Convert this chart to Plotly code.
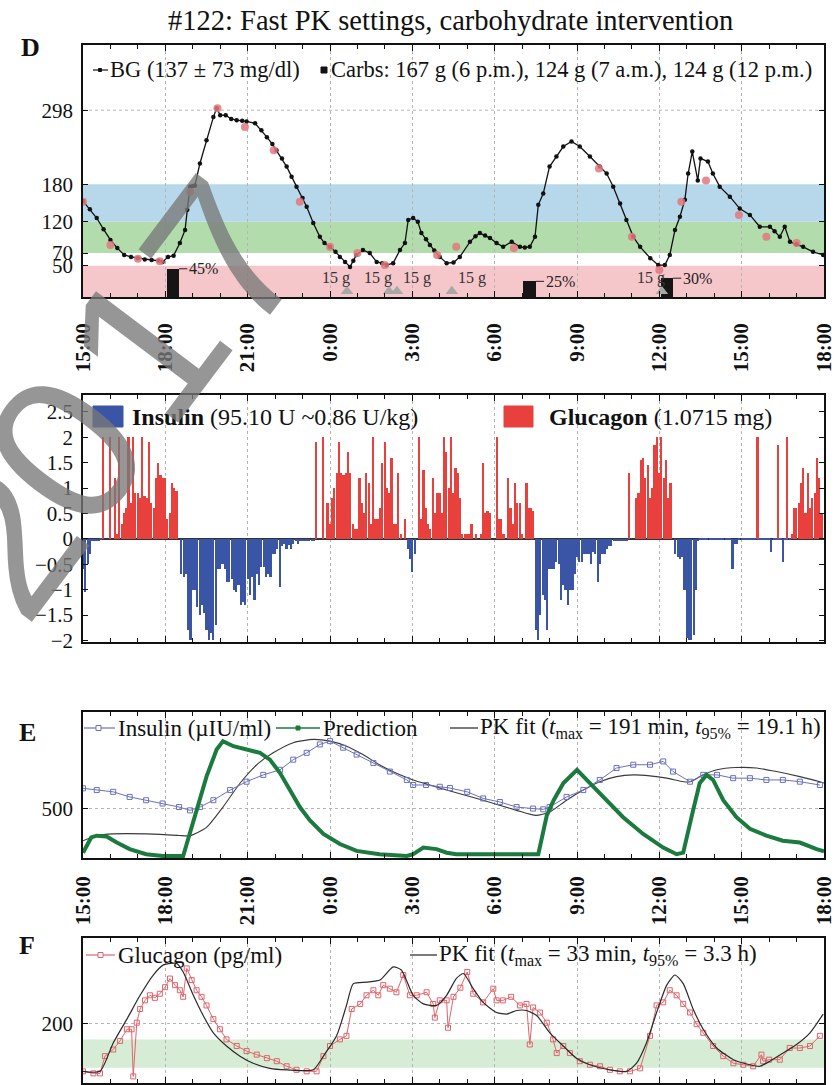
import plotly.graph_objects as go

# ---------------- data ----------------
title_text = "#122: Fast PK settings, carbohydrate intervention"
x_tick_vals = [0, 3, 6, 9, 12, 15, 18, 21, 24, 27]
x_tick_labels = ["15:00", "18:00", "21:00", "0:00", "3:00", "6:00", "9:00", "12:00", "15:00", "18:00"]

# Panel D: blood glucose (hours after 15:00, mg/dl)
bg_hours = [0, 0.25, 0.5, 0.75, 1.0, 1.25, 1.5, 1.75, 2.0, 2.25, 2.5, 2.75, 2.9, 3.1, 3.3, 3.53, 3.72, 3.8, 3.9, 4.0,
            4.08, 4.26, 4.5, 4.75, 4.87, 5.0, 5.2, 5.4, 5.6, 5.8, 5.96, 6.27, 6.5, 6.7, 6.9, 7.05, 7.25, 7.42, 7.6, 7.78,
            8.0, 8.15, 8.39, 8.63, 8.8, 9.0, 9.2, 9.36, 9.55, 9.73, 9.85, 9.96, 10.2, 10.45, 10.7, 10.9, 11.06, 11.3, 11.55, 11.73,
            11.85, 12.03, 12.2, 12.33, 12.5, 12.64, 12.8, 13.0, 13.25, 13.5, 13.73, 14.1, 14.3, 14.46, 14.65, 14.83, 15.07, 15.31, 15.62, 15.92,
            16.1, 16.28, 16.47, 16.59, 16.77, 17.0, 17.25, 17.5, 17.8, 18.1, 18.47, 18.83, 19.08, 19.32, 19.57, 19.8, 20.05, 20.3, 20.67, 20.96,
            21.2, 21.38, 21.57, 21.75, 21.93, 22.05, 22.2, 22.4, 22.5, 22.77, 22.95, 23.2, 23.57, 23.93, 24.3, 24.66, 25.03, 25.2, 25.39, 25.57,
            25.76, 26.0, 26.24, 26.6, 26.97]
bg_values = [153, 140, 126, 108, 91, 78, 67, 64, 62, 60, 59, 58, 56, 64, 66, 86, 107, 139, 176, 177,
             178, 213, 250, 287, 301, 290, 290, 284, 282, 281, 280, 277, 266, 255, 244, 234, 221, 208, 192, 176,
             158, 144, 118, 96, 86, 80, 72, 64, 56, 48, 58, 67, 75, 70, 56, 54, 51, 54, 75, 86,
             123, 126, 120, 102, 92, 83, 74, 64, 54, 55, 64, 88, 97, 102, 98, 94, 86, 80, 88, 80,
             79, 80, 96, 147, 165, 208, 224, 240, 248, 240, 224, 208, 197, 176, 149, 123, 96, 80, 62, 51,
             51, 67, 107, 128, 155, 197, 232, 186, 221, 216, 197, 176, 160, 141, 131, 112, 112, 105, 96, 112,
             88, 84, 80, 72, 67]
ref_hours = [0, 1.0, 2.0, 2.8, 3.9, 4.9, 5.9, 6.95, 7.9, 9.0, 10.0, 11.0, 12.9, 13.6, 15.7, 18.8, 20.0, 21.0, 21.8, 22.7, 23.9, 24.9, 26.0]
ref_values = [152, 83, 61, 57, 168, 301, 271, 234, 152, 80, 70, 51, 67, 80, 78, 205, 96, 43, 152, 186, 131, 96, 86]
bg_legend = "BG (137 ± 73 mg/dl)"
carb_legend = "Carbs: 167 g (6 p.m.), 124 g (7 a.m.), 124 g (12 p.m.)"
carb_start_hours = [3.05, 16.05, 21.05]
carb_percent = [45, 25, 30]
rescue_hours = [9.62, 11.15, 11.44, 13.44, 21.09]
rescue_labels = ["15 g", "15 g", "15 g", "15 g", "15 g"]
target_zones = [(0, 50, "rgb(245,198,202)"), (70, 120, "rgb(178,220,172)"), (120, 180, "rgb(183,216,234)")]
bg_ref_line = 298

# Panel 2: doses per 5-min step, one row per hour
glucagon_rows = [
    [0, 0, 0, 0, 0, 0, 0, 0, 0, 2.0, 0, 0],
    [2.0, 0, 1.2, 0.1, 2.0, 0.3, 0.5, 0.6, 2.0, 0.7, 2.0, 0.9],
    [0.9, 0.8, 2.0, 0.85, 0.8, 1.9, 0.7, 0.6, 1.2, 1.5, 1.25, 1.2],
    [1.2, 0.4, 0.5, 1.1, 1.0, 0.95, 0, 0, 0, 0, 0, 0],
    [0, 0, 0, 0, 0, 0, 0, 0, 0, 0, 0, 0],
    [0, 0, 0, 0, 0, 0, 0, 0, 0, 0, 0, 0],
    [0, 0, 0, 0, 0, 0, 0, 0, 0, 0, 0, 0],
    [0, 0, 0, 0, 0, 0, 0, 0, 0, 0, 0, 0],
    [0, 0, 0, 0, 0, 0, 1.9, 0, 0, 2.0, 0, 0.7],
    [0.3, 0.8, 1.0, 1.3, 1.9, 1.3, 1.25, 1.3, 1.7, 1.3, 0.3, 0.2],
    [0.2, 1.2, 0.7, 0.5, 1.3, 1.1, 0.3, 2.0, 0.4, 0.4, 0.6, 1.5],
    [1.9, 1.0, 0.9, 1.6, 0.3, 0.3, 1.3, 0.1, 0, 0.4, 0, 0],
    [0, 0, 0, 2.0, 0.4, 1.35, 0.6, 0.3, 0.2, 1.2, 0.5, 0.9],
    [0.9, 0.5, 2.0, 1.7, 1.0, 2.0, 0.9, 1.4, 1.3, 0.8, 0.1, 0.1],
    [0.1, 0.1, 0.3, 0, 0.1, 0, 0.1, 1.5, 0.5, 0.55, 0.5, 0],
    [0, 2.0, 0.4, 0.4, 0.1, 0, 1.2, 0.6, 0.3, 1.1, 0.7, 0.7],
    [0.1, 0, 1.1, 0.6, 0.6, 0.55, 0, 0, 0, 0, 0, 0],
    [0, 0, 0, 0, 0, 0, 0, 0, 0, 0, 0, 0],
    [0, 0, 0, 0, 0, 0, 0, 0, 0, 0, 0, 0],
    [0, 0, 0, 0, 0, 0, 0, 0, 0, 0, 0, 1.3],
    [0, 0, 0.8, 0.9, 1.55, 1.6, 1.2, 1.45, 0.8, 1.0, 1.85, 2.0],
    [1.3, 2.0, 1.2, 1.55, 0.8, 1.1, 0, 0, 0, 0, 0, 0],
    [0, 0, 0, 0, 0, 0, 0, 0, 0, 0, 0, 0],
    [0, 0, 0, 0, 0, 0, 0, 0, 0, 0, 0, 0],
    [0, 0, 0, 0, 0, 0, 0, 2.0, 0, 0, 0, 0],
    [0, 0, 0, 0, 1.85, 0, 0, 0, 2.0, 0, 0.1, 0.6],
    [0.6, 0.7, 1.1, 1.4, 0.5, 1.3, 0.6, 0.8, 0.9, 1.6, 1.2, 0.5],
]
insulin_rows = [
    [-0.6, -1.05, -0.5, -0.3, -0.05, -0.05, -0.05, -0.05, -0.03, 0, 0, 0],
    [0, 0, 0, 0, 0, 0, 0, 0, 0, 0, 0, 0],
    [0, 0, 0, 0, 0, 0, 0, 0, 0, 0, 0, 0],
    [0, 0, 0, 0, 0, 0, 0, -0.7, -0.75, -0.7, -1.8, -2.0],
    [-1.0, -1.0, -1.35, -1.5, -1.3, -1.45, -1.8, -2.0, -1.85, -2.0, -1.7, -0.6],
    [-0.6, -0.5, -0.6, -0.85, -0.85, -0.8, -1.0, -1.05, -0.9, -1.3, -1.25, -1.3],
    [-0.8, -1.1, -0.75, -1.2, -0.7, -0.9, -0.55, -0.55, -0.75, -0.7, -0.75, -0.3],
    [-0.3, -0.2, -0.95, -0.15, -0.1, -0.2, -0.12, -0.2, -0.1, -0.05, -0.1, -0.05],
    [-0.05, -0.05, -0.05, -0.05, -0.05, -0.05, 0, 0, 0, 0, 0, 0],
    [0, 0, 0, 0, 0, 0, 0, 0, 0, 0, 0, 0],
    [0, 0, 0, 0, 0, 0, 0, 0, 0, 0, 0, 0],
    [0, 0, 0, 0, 0, 0, 0, 0, 0, 0, -0.2, -0.4],
    [-0.65, -0.3, 0, 0, 0, 0, 0, 0, 0, 0, 0, 0],
    [0, 0, 0, 0, 0, 0, 0, 0, 0, 0, 0, 0],
    [0, 0, 0, 0, 0, 0, 0, 0, 0, 0, 0, 0],
    [0, 0, 0, 0, 0, 0, 0, 0, 0, 0, 0, 0],
    [0, 0, 0, 0, 0, 0, -1.8, -2.0, -1.5, -1.1, -1.2, -1.8],
    [-0.6, -0.6, -0.6, -0.45, -0.5, -1.2, -0.9, -1.0, -1.3, -1.0, -1.0, -0.7],
    [-0.35, -0.45, -0.45, -0.3, -0.3, -0.3, -0.5, -0.25, -0.3, -0.85, -0.5, -0.3],
    [-0.3, -0.2, -0.15, -0.15, -0.05, -0.05, -0.05, -0.05, -0.05, -0.05, -0.05, 0],
    [0, 0, 0, 0, 0, 0, 0, 0, 0, 0, 0, 0],
    [0, 0, 0, 0, 0, 0, 0, -0.3, -0.35, -0.4, -0.35, -1.0],
    [-1.95, -2.0, -2.0, -1.9, -1.0, -0.05, -0.03, -0.03, -0.03, -0.03, -0.03, -0.03],
    [-0.03, -0.03, -0.03, -0.03, -0.03, -0.03, -0.03, -0.03, -0.6, -0.1, -0.1, -0.03],
    [-0.03, -0.03, -0.03, -0.03, -0.03, -0.03, -0.03, -0.03, -0.03, -0.03, -0.03, -0.03],
    [-0.03, -0.25, -0.03, -0.03, -0.03, -0.03, -0.45, -0.03, -0.03, -0.03, 0, 0],
    [0, 0, 0, 0, 0, 0, 0, 0, 0, 0, 0, 0],
]
bar_y_ticks = [-2, -1.5, -1, -0.5, 0, 0.5, 1, 1.5, 2, 2.5]
bar_y_labels = ["\u22122", "\u22121.5", "\u22121", "\u22120.5", "0", "0.5", "1", "1.5", "2", "2.5"]

# Panel E: insulin concentration, prediction, PK fit
ins_obs = [(0, 579), (0.5, 572), (1.1, 565), (1.7, 545), (2.3, 532), (2.9, 519), (3.5, 505), (3.9, 492), (4.26, 505),
           (4.75, 532), (5.36, 572), (5.96, 605), (6.57, 632), (7.18, 652), (7.66, 692), (8.15, 719), (8.63, 752),
           (9.0, 765), (9.48, 739), (9.97, 712), (10.58, 679), (11.18, 645), (11.8, 612), (12.03, 592), (12.5, 592),
           (13.0, 585), (13.37, 580), (14.0, 565), (14.58, 539), (15.19, 525), (15.8, 505), (16.4, 499), (16.77, 496),
           (17.0, 505), (17.62, 545), (18.23, 572), (18.83, 612), (19.44, 659), (20.05, 672), (20.66, 672), (21.14, 685),
           (21.5, 645), (22.12, 605), (22.6, 632), (23.1, 632), (23.69, 619), (24.3, 619), (24.9, 612), (25.5, 612),
           (26.12, 605), (26.85, 592)]
ins_pred = [(0, 325), (0.3, 385), (0.5, 392), (0.86, 389), (1.23, 365), (1.7, 339), (2.3, 319), (2.9, 312), (3.65, 312),
            (3.78, 359), (4.14, 492), (4.5, 625), (4.87, 732), (5.1, 765), (5.48, 745), (5.96, 732), (6.45, 719),
            (6.81, 692), (7.18, 639), (7.54, 572), (7.9, 505), (8.27, 452), (8.76, 399), (9.36, 359), (9.97, 332),
            (10.8, 319), (11.8, 312), (12.03, 319), (12.4, 345), (12.88, 339), (13.25, 325), (13.6, 319), (14.0, 319),
            (15.19, 316), (16.4, 316), (16.59, 319), (16.9, 472), (17.15, 532), (17.5, 599), (18.0, 652), (18.47, 599),
            (18.96, 545), (19.68, 465), (20.41, 399), (21.14, 345), (21.63, 319), (21.87, 325), (22.23, 492), (22.47, 599),
            (22.72, 632), (22.96, 612), (23.33, 532), (23.81, 465), (24.3, 419), (24.9, 392), (25.5, 372), (26.12, 365),
            (26.73, 339), (27.0, 330)]
ins_pk = [(0, 372), (0.5, 392), (1.1, 399), (2.3, 399), (3.5, 393), (3.9, 392), (4.5, 425), (5.1, 505), (5.72, 599),
          (6.33, 672), (6.93, 719), (7.66, 759), (8.39, 772), (9.0, 765), (9.6, 745), (10.2, 712), (10.8, 672), (11.4, 639),
          (12.03, 612), (12.64, 592), (13.25, 572), (14.58, 532), (15.8, 492), (16.5, 472), (17.0, 485), (17.62, 532),
          (18.23, 572), (18.83, 605), (19.44, 625), (20.05, 632), (20.66, 628), (21.27, 619), (21.88, 605), (22.12, 605),
          (22.6, 632), (23.1, 652), (23.81, 661), (24.54, 659), (25.27, 645), (26.12, 625), (26.85, 605), (27.0, 600)]

# Panel F: glucagon concentration and PK fit
glu_obs = [(0, 105), (0.38, 101), (0.62, 101), (0.8, 135), (1.1, 148), (1.35, 165), (1.6, 188), (1.77, 188), (1.83, 95),
           (1.96, 201), (2.08, 228), (2.26, 245), (2.44, 255), (2.62, 250), (2.8, 258), (2.99, 271), (3.17, 288),
           (3.35, 275), (3.53, 265), (3.65, 252), (3.78, 308), (3.96, 285), (4.14, 265), (4.32, 252), (4.5, 235),
           (4.75, 208), (4.99, 188), (5.23, 168), (5.6, 155), (5.96, 145), (6.33, 138), (6.7, 131), (7.06, 125),
           (7.42, 115), (7.78, 108), (8.15, 105), (8.51, 105), (8.76, 135), (9.0, 155), (9.36, 168), (9.6, 175),
           (9.79, 228), (10.1, 238), (10.33, 255), (10.58, 265), (10.76, 255), (10.94, 275), (11.18, 268), (11.42, 261),
           (11.67, 295), (11.91, 255), (12.16, 255), (12.52, 261), (12.76, 238), (12.82, 211), (13.0, 245), (13.25, 245),
           (13.3, 191), (13.5, 252), (13.75, 270), (14.0, 301), (14.22, 258), (14.58, 241), (14.95, 268), (15.07, 245),
           (15.3, 245), (15.6, 252), (15.92, 235), (16.16, 238), (16.28, 158), (16.4, 231), (16.65, 221), (16.9, 201),
           (17.13, 168), (17.26, 141), (17.5, 155), (17.74, 141), (18.1, 125), (18.47, 118), (18.84, 115), (19.2, 108),
           (19.56, 105), (19.93, 105), (20.3, 111), (20.66, 175), (20.9, 235), (21.14, 241), (21.38, 265), (21.63, 255),
           (21.87, 238), (22.12, 221), (22.36, 198), (22.6, 181), (22.96, 155), (23.33, 135), (23.7, 121), (24.06, 118),
           (24.42, 115), (24.72, 138), (24.78, 125), (25.0, 128), (25.39, 128), (25.75, 151), (26.12, 151), (26.49, 155),
           (26.85, 175)]
glu_pk = [(0, 105), (0.62, 105), (1.1, 161), (1.6, 208), (2.08, 255), (2.56, 295), (2.93, 315), (3.41, 318), (3.65, 301),
          (4.02, 255), (4.38, 215), (4.75, 181), (5.23, 155), (5.72, 135), (6.2, 121), (6.81, 111), (7.42, 108), (8.39, 108),
          (8.76, 135), (9.24, 175), (9.6, 235), (9.85, 278), (10.33, 281), (10.82, 285), (11.3, 311), (11.6, 305),
          (12.03, 255), (12.4, 238), (12.88, 235), (13.25, 255), (13.6, 288), (13.86, 298), (14.22, 268), (14.58, 241),
          (15.07, 221), (15.44, 218), (15.8, 225), (16.16, 225), (16.53, 215), (17.01, 181), (17.5, 155), (17.98, 131),
          (18.47, 118), (19.2, 108), (19.81, 105), (20.17, 121), (20.53, 161), (20.9, 221), (21.27, 275), (21.57, 295),
          (21.87, 278), (22.23, 228), (22.6, 188), (23.09, 151), (23.7, 128), (24.3, 118), (24.66, 115), (25.03, 125),
          (25.51, 141), (26.0, 158), (26.49, 181), (26.97, 218)]
glu_normal_zone = (112, 168)

watermark_digits = ["2", "0", "1", "7"]

# ---------------- layout helpers ----------------
W, H = 836, 1085
SERIF = "Liberation Serif, Times New Roman, serif"


def px(x):
    return x / W


def py(y):
    return 1 - y / H


XDOM = [px(83), px(824)]
DOM_D = [py(297), py(45)]
DOM_B = [py(642), py(395)]
DOM_E = [py(858), py(712)]
DOM_F = [py(1083), py(938)]

fig = go.Figure()

# ---------- Panel D ----------
fig.add_trace(go.Bar(x=carb_start_hours, y=carb_percent, width=0.45, offset=0, marker=dict(color="#151515", line=dict(width=0)),
                     xaxis="x", yaxis="y", showlegend=False))
fig.add_trace(go.Scatter(x=rescue_hours, y=[9] * len(rescue_hours), mode="markers",
                         marker=dict(symbol="triangle-up", size=11, color="#a8a8a8"), xaxis="x", yaxis="y", showlegend=False))
fig.add_trace(go.Scatter(x=bg_hours, y=bg_values, mode="lines+markers", line=dict(color="#111", width=1.3),
                         marker=dict(size=4.5, color="#111"), xaxis="x", yaxis="y", showlegend=False))
fig.add_trace(go.Scatter(x=ref_hours, y=ref_values, mode="markers",
                         marker=dict(size=8, color="rgba(226,120,125,0.85)"), xaxis="x", yaxis="y", showlegend=False))

# ---------- Bars ----------
step = 1 / 12
glu_vals = [v for row in glucagon_rows for v in row]
ins_vals = [v for row in insulin_rows for v in row]
bar_hours = [k * step for k in range(len(glu_vals))]
fig.add_trace(go.Bar(x=bar_hours, y=ins_vals, width=0.078, marker=dict(color="#3a55a6", line=dict(width=0)),
                     xaxis="x2", yaxis="y2", showlegend=False))
fig.add_trace(go.Bar(x=bar_hours, y=glu_vals, width=0.06, marker=dict(color="#e8403c", line=dict(width=0)),
                     xaxis="x2", yaxis="y2", showlegend=False))

# ---------- Panel E ----------
fig.add_trace(go.Scatter(x=[p[0] for p in ins_pk], y=[p[1] for p in ins_pk], mode="lines",
                         line=dict(color="#3a3a3a", width=1.1, shape="spline", smoothing=0.6), xaxis="x3", yaxis="y3", showlegend=False))
fig.add_trace(go.Scatter(x=[p[0] for p in ins_obs], y=[p[1] for p in ins_obs], mode="lines+markers",
                         line=dict(color="#6b70bd", width=1),
                         marker=dict(symbol="square-open", size=5, color="#6b70bd"), xaxis="x3", yaxis="y3", showlegend=False))
fig.add_trace(go.Scatter(x=[p[0] for p in ins_pred], y=[p[1] for p in ins_pred], mode="lines",
                         line=dict(color="#1b7a3d", width=4), xaxis="x3", yaxis="y3", showlegend=False))

# ---------- Panel F ----------
fig.add_trace(go.Scatter(x=[p[0] for p in glu_obs], y=[p[1] for p in glu_obs], mode="lines+markers",
                         line=dict(color="#e0646c", width=1),
                         marker=dict(symbol="square-open", size=5, color="#e0646c"), xaxis="x4", yaxis="y4", showlegend=False))
fig.add_trace(go.Scatter(x=[p[0] for p in glu_pk], y=[p[1] for p in glu_pk], mode="lines",
                         line=dict(color="#2a2a2a", width=1.2, shape="spline", smoothing=0.6), xaxis="x4", yaxis="y4", showlegend=False))


def xaxis_cfg(anchor, show_labels, standoff):
    return dict(domain=XDOM, range=[0, 27], anchor=anchor, tickmode="array", tickvals=x_tick_vals,
                ticktext=x_tick_labels, showticklabels=show_labels, tickangle=-90,
                tickfont=dict(family=SERIF, size=21, color="#111", weight="bold"), ticklabelstandoff=standoff,
                ticks="inside", ticklen=6, tickcolor="#111", mirror="ticks", showline=True, linecolor="#111",
                linewidth=1.5, showgrid=True, griddash="dot", gridcolor="#b5b5b5", gridwidth=1, zeroline=False,
                automargin=False,
                minor=dict(tickmode="linear", tick0=0, dtick=1, ticks="inside", ticklen=4, tickcolor="#111", showgrid=False))


def yaxis_cfg(anchor, domain, rng, vals, texts, grid):
    return dict(domain=domain, range=rng, anchor=anchor, tickmode="array", tickvals=vals, ticktext=texts,
                tickfont=dict(family=SERIF, size=21, color="#111"), ticks="inside", ticklen=5, tickcolor="#111",
                mirror="ticks", showline=True, linecolor="#111", linewidth=1.5, showgrid=grid, griddash="dot",
                gridcolor="#b5b5b5", zeroline=False, ticklabelstandoff=4, automargin=False)


d_ticks = [50, 70, 120, 180, 298]
fig.update_layout(
    width=W, height=H, margin=dict(l=0, r=0, t=0, b=0, autoexpand=False), paper_bgcolor="white", plot_bgcolor="white",
    barmode="overlay", bargap=0,
    xaxis=xaxis_cfg("y", True, 16),
    xaxis2=xaxis_cfg("y2", False, 4),
    xaxis3=xaxis_cfg("y3", True, 8),
    xaxis4=xaxis_cfg("y4", False, 4),
    yaxis=yaxis_cfg("x", DOM_D, [0, 402], d_ticks, [str(v) for v in d_ticks], False),
    yaxis2=yaxis_cfg("x2", DOM_B, [-2.03, 2.83], bar_y_ticks, bar_y_labels, False),
    yaxis3=yaxis_cfg("x3", DOM_E, [304, 880], [500], ["500"], True),
    yaxis4=yaxis_cfg("x4", DOM_F, [82, 368], [200], ["200"], True),
)
fig.update_layout(yaxis2=dict(zeroline=True, zerolinecolor="#333", zerolinewidth=1.5))

shapes = []
for lo, hi, col in target_zones:
    shapes.append(dict(type="rect", xref="x", yref="y", x0=0, x1=27, y0=lo, y1=hi,
                       fillcolor=col, line=dict(width=0), layer="below"))
shapes.append(dict(type="line", xref="x", yref="y", x0=0, x1=27, y0=bg_ref_line, y1=bg_ref_line,
                   line=dict(color="#b5b5b5", width=1, dash="dot"), layer="below"))
shapes.append(dict(type="rect", xref="x4", yref="y4", x0=0, x1=27, y0=glu_normal_zone[0], y1=glu_normal_zone[1],
                   fillcolor="rgb(214,236,212)", line=dict(width=0), layer="below"))
# leader ticks on carb bars
for h, p in zip(carb_start_hours, carb_percent):
    shapes.append(dict(type="line", xref="x", yref="y", x0=h + 0.45, x1=h + 0.75, y0=p, y1=p,
                       line=dict(color="#222", width=1)))

annotations = []
for h, p in zip(carb_start_hours, carb_percent):
    annotations.append(dict(x=h + 0.75, y=p, xref="x", yref="y", text=f"{p}%", showarrow=False, xanchor="left",
                            yanchor="middle", font=dict(family=SERIF, size=16, color="#222")))
rescue_anchor = ["right", "right", "left", "left", "right"]
for h, lab, anc in zip(rescue_hours, rescue_labels, rescue_anchor):
    annotations.append(dict(x=h, y=30, xref="x", yref="y", text=lab, showarrow=False, xanchor=anc,
                            xshift=5 if anc == "right" else 4, yanchor="middle",
                            font=dict(family=SERIF, size=16, color="#333")))


def ptext(x, y, text, size=22, anchor="left", color="#111", weight="normal"):
    annotations.append(dict(x=px(x), y=py(y), xref="paper", yref="paper", text=text, showarrow=False,
                            xanchor=anchor, yanchor="middle",
                            font=dict(family=SERIF, size=size, color=color, weight=weight)))


def pline(x0, x1, y, color, width=1.2):
    shapes.append(dict(type="line", xref="paper", yref="paper", x0=px(x0), x1=px(x1), y0=py(y), y1=py(y),
                       line=dict(color=color, width=width)))


def prect(x0, x1, y0, y1, color, line_color=None):
    shapes.append(dict(type="rect", xref="paper", yref="paper", x0=px(x0), x1=px(x1), y0=py(y1), y1=py(y0),
                       fillcolor=color, line=dict(color=line_color or color, width=1)))


# title and panel letters
ptext(450, 20, title_text, size=28.5, anchor="center")
ptext(30, 48, "D", size=26, anchor="center", weight="bold")
ptext(27, 732, "E", size=26, anchor="center", weight="bold")
ptext(27, 945, "F", size=26, anchor="center", weight="bold")

# D legend
pline(93, 108, 70, "#111")
prect(98.5, 101.5, 68.5, 71.5, "#111")
ptext(108, 70, bg_legend, size=22.5)
prect(321, 327, 67, 73, "#111")
ptext(329, 70, carb_legend, size=22.5)

# bar legend
prect(93, 123, 406, 427, "#3a55a6")
ptext(130, 417, "<b>Insulin</b> (95.10 U ~0.86 U/kg)", size=24)
prect(504, 533, 406, 427, "#e8403c")
ptext(547, 417, "<b>Glucagon</b> (1.0715 mg)", size=24)

# E legend
pline(84, 115, 728, "#6b70bd")
prect(96, 101, 725.5, 730.5, "white", "#6b70bd")
ptext(116, 728, "Insulin (µIU/ml)", size=23)
pline(276, 320, 728, "#1b7a3d", 1.5)
prect(296, 300, 726, 730, "#1b7a3d")
ptext(321, 728, "Prediction", size=23)
pline(450, 478, 728, "#222")
ptext(478, 728, "PK fit (<i>t</i><sub>max</sub> = 191 min, <i>t</i><sub>95%</sub> = 19.1 h)", size=23)

# F legend
pline(86, 115, 955, "#e0646c")
prect(98, 103, 952.5, 957.5, "white", "#e0646c")
ptext(116, 955, "Glucagon (pg/ml)", size=23)
pline(410, 437, 955, "#222")
ptext(437, 955, "PK fit (<i>t</i><sub>max</sub> = 33 min, <i>t</i><sub>95%</sub> = 3.3 h)", size=23)

# watermark, one glyph at a time along a tilted baseline (anchors kept inside the page)
wm_centers = [(2, 540), (65, 450), (145, 345), (225, 255)]
for ch, (cx, cy) in zip(watermark_digits, wm_centers):
    annotations.append(dict(x=px(cx), y=py(cy), xref="paper", yref="paper", text=ch, showarrow=False,
                            xanchor="center", yanchor="middle", textangle=-53,
                            font=dict(family="Liberation Sans, Arial, sans-serif", size=210,
                                      color="rgba(120,120,120,0.78)")))

fig.update_layout(shapes=shapes, annotations=annotations)
fig.write_html("out.html")
